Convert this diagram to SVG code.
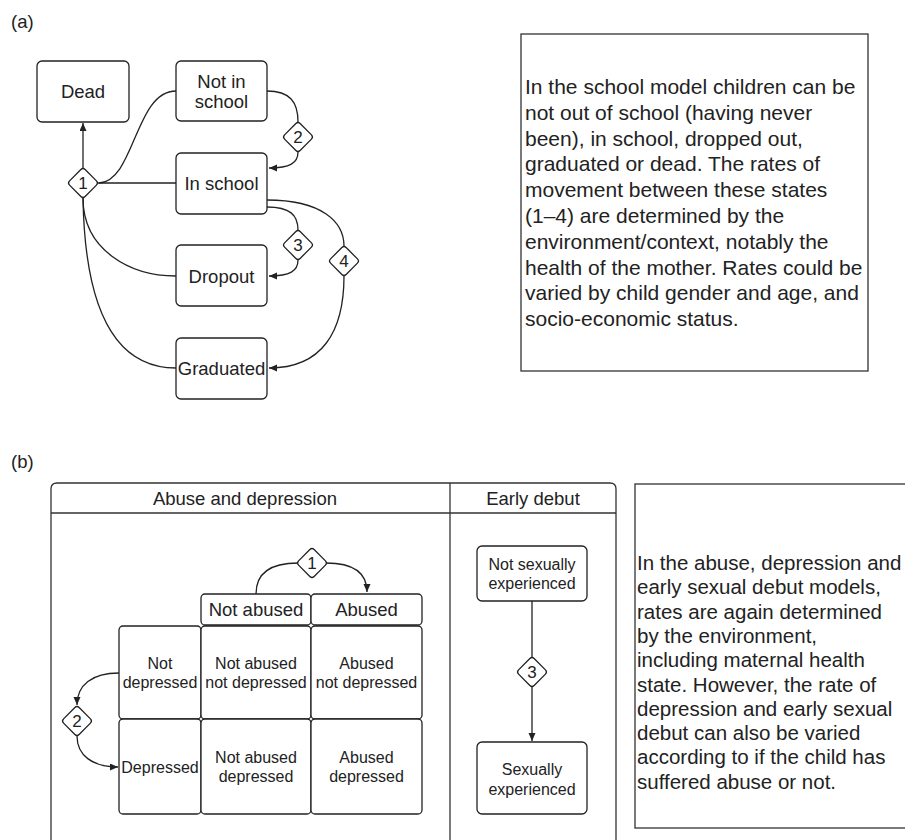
<svg xmlns="http://www.w3.org/2000/svg" width="905" height="840" viewBox="0 0 905 840">
<defs>
<marker id="ah" markerUnits="userSpaceOnUse" markerWidth="10" markerHeight="8" refX="8" refY="3.5" orient="auto">
<path d="M0,0 L8,3.5 L0,7 z" fill="#222"/>
</marker>
<style>
text{font-family:"Liberation Sans",Arial,sans-serif;fill:#222}
.n{font-size:18.5px;text-anchor:middle;dominant-baseline:central}
.s{font-size:16px;text-anchor:middle;dominant-baseline:central}
.d{font-size:17px;text-anchor:middle;dominant-baseline:central}
.pa{font-size:21px}
.pb{font-size:20.5px}
.box{fill:#fff;stroke:#222;stroke-width:1.3}
.dm{fill:#fff;stroke:#222;stroke-width:1.3}
.c{fill:none;stroke:#222;stroke-width:1.3}
.ca{fill:none;stroke:#222;stroke-width:1.3;marker-end:url(#ah)}
.frame{fill:none;stroke:#333;stroke-width:1.3}
</style>
</defs>
<rect width="905" height="840" fill="#fff"/>

<text x="11" y="28" style="font-size:18.5px">(a)</text>
<text x="11" y="468" style="font-size:18.5px">(b)</text>

<g id="connectors-a">
<path class="ca" d="M83,168 L83,123"/>
<path class="c" d="M98,183 L176,183"/>
<path class="c" d="M99,183 C135,181 135,91 176,91"/>
<path class="c" d="M83,198 C83,250 130,276 176,276"/>
<path class="c" d="M83,198 C85,320 120,368 176,368"/>
<path class="c" d="M267,91 C290,91 298,102 298,122"/>
<path class="ca" d="M298,152 C298,163 290,168 269,168"/>
<path class="c" d="M267,207 C290,207 298,215 298,230"/>
<path class="ca" d="M298,260 C298,271 290,276 269,276"/>
<path class="c" d="M267,200 C322,200 344,222 344,246"/>
<path class="ca" d="M344,276 C344,332 322,368 269,368"/>
</g>

<g id="dead"><rect class="box" x="37" y="61" width="92" height="61" rx="5"/><text class="n" x="83" y="91">Dead</text></g>
<g id="not-in-school"><rect class="box" x="176" y="61" width="91" height="60" rx="5"/><text class="n" x="221.5" y="81">Not in</text><text class="n" x="221.5" y="101">school</text></g>
<g id="in-school"><rect class="box" x="176" y="153" width="91" height="61" rx="5"/><text class="n" x="221.5" y="183">In school</text></g>
<g id="dropout"><rect class="box" x="176" y="245" width="91" height="61" rx="5"/><text class="n" x="221.5" y="276">Dropout</text></g>
<g id="graduated"><rect class="box" x="176" y="338" width="91" height="61" rx="5"/><text class="n" x="221.5" y="368">Graduated</text></g>

<g id="rate-a1"><rect class="dm" x="-11" y="-11" width="22" height="22" rx="3" transform="translate(83,183) rotate(45)"/><text class="d" x="83" y="183">1</text></g>
<g id="rate-a2"><rect class="dm" x="-11" y="-11" width="22" height="22" rx="3" transform="translate(298,137) rotate(45)"/><text class="d" x="298" y="137">2</text></g>
<g id="rate-a3"><rect class="dm" x="-11" y="-11" width="22" height="22" rx="3" transform="translate(298,245) rotate(45)"/><text class="d" x="298" y="245">3</text></g>
<g id="rate-a4"><rect class="dm" x="-11" y="-11" width="22" height="22" rx="3" transform="translate(344,261) rotate(45)"/><text class="d" x="344" y="261">4</text></g>

<g id="note-a">
<rect class="frame" x="521" y="34" width="347" height="337"/>
<text class="pa" x="525" y="94">
<tspan x="525" dy="0">In the school model children can be</tspan>
<tspan x="525" dy="25.8">not out of school (having never</tspan>
<tspan x="525" dy="25.8">been), in school, dropped out,</tspan>
<tspan x="525" dy="25.8">graduated or dead. The rates of</tspan>
<tspan x="525" dy="25.8">movement between these states</tspan>
<tspan x="525" dy="25.8">(1–4) are determined by the</tspan>
<tspan x="525" dy="25.8">environment/context, notably the</tspan>
<tspan x="525" dy="25.8">health of the mother. Rates could be</tspan>
<tspan x="525" dy="25.8">varied by child gender and age, and</tspan>
<tspan x="525" dy="25.8">socio-economic status.</tspan>
</text>
</g>

<g id="pool">
<path class="frame" d="M51,850 L51,489 Q51,483 57,483 L610,483 Q616,483 616,489 L616,850"/>
<line class="frame" x1="51" y1="513" x2="616" y2="513"/>
<line class="frame" x1="450" y1="483" x2="450" y2="850"/>
<text class="n" x="245" y="498">Abuse and depression</text>
<text class="n" x="533" y="498">Early debut</text>
</g>

<g id="connectors-b">
<path class="c" d="M256,594 C256,572 272,563 298,563"/>
<path class="ca" d="M326,563 C352,563 367,572 367,592"/>
<path class="ca" d="M119,673 C92,673 77,685 77,705"/>
<path class="ca" d="M77,736 C77,755 92,767 118,767"/>
<path class="c" d="M532,601 L532,657"/>
<path class="ca" d="M532,687 L532,741"/>
</g>

<g id="not-abused"><rect class="box" x="201" y="594" width="110" height="31" rx="4"/><text class="n" x="256" y="609.5">Not abused</text></g>
<g id="abused"><rect class="box" x="311" y="594" width="111" height="31" rx="4"/><text class="n" x="366.5" y="609.5">Abused</text></g>
<g id="not-depressed"><rect class="box" x="119" y="626" width="82" height="93" rx="4"/><text class="s" x="160" y="663">Not</text><text class="s" x="160" y="682">depressed</text></g>
<g id="na-nd"><rect class="box" x="201" y="626" width="110" height="93" rx="4"/><text class="s" x="256" y="663">Not abused</text><text class="s" x="256" y="682">not depressed</text></g>
<g id="a-nd"><rect class="box" x="311" y="626" width="111" height="93" rx="4"/><text class="s" x="366.5" y="663">Abused</text><text class="s" x="366.5" y="682">not depressed</text></g>
<g id="depressed"><rect class="box" x="119" y="719" width="82" height="95" rx="4"/><text class="s" x="160" y="767">Depressed</text></g>
<g id="na-d"><rect class="box" x="201" y="719" width="110" height="95" rx="4"/><text class="s" x="256" y="757">Not abused</text><text class="s" x="256" y="776">depressed</text></g>
<g id="a-d"><rect class="box" x="311" y="719" width="111" height="95" rx="4"/><text class="s" x="366.5" y="757">Abused</text><text class="s" x="366.5" y="776">depressed</text></g>

<g id="rate-b1"><rect class="dm" x="-11" y="-11" width="22" height="22" rx="3" transform="translate(312,563) rotate(45)"/><text class="d" x="312" y="563">1</text></g>
<g id="rate-b2"><rect class="dm" x="-11" y="-11" width="22" height="22" rx="3" transform="translate(77,721) rotate(45)"/><text class="d" x="77" y="721">2</text></g>
<g id="rate-b3"><rect class="dm" x="-11" y="-11" width="22" height="22" rx="3" transform="translate(532,672) rotate(45)"/><text class="d" x="532" y="672">3</text></g>

<g id="not-sexually-experienced"><rect class="box" x="477" y="546" width="110" height="55" rx="5"/><text class="s" x="532" y="564">Not sexually</text><text class="s" x="532" y="583">experienced</text></g>
<g id="sexually-experienced"><rect class="box" x="477" y="742" width="110" height="72" rx="5"/><text class="s" x="532" y="769">Sexually</text><text class="s" x="532" y="789">experienced</text></g>

<g id="note-b">
<rect class="frame" x="635" y="484" width="300" height="344"/>
<text class="pb" x="637" y="570">
<tspan x="637" dy="0">In the abuse, depression and</tspan>
<tspan x="637" dy="24.3">early sexual debut models,</tspan>
<tspan x="637" dy="24.3">rates are again determined</tspan>
<tspan x="637" dy="24.3">by the environment,</tspan>
<tspan x="637" dy="24.3">including maternal health</tspan>
<tspan x="637" dy="24.3">state. However, the rate of</tspan>
<tspan x="637" dy="24.3">depression and early sexual</tspan>
<tspan x="637" dy="24.3">debut can also be varied</tspan>
<tspan x="637" dy="24.3">according to if the child has</tspan>
<tspan x="637" dy="24.3">suffered abuse or not.</tspan>
</text>
</g>
</svg>
